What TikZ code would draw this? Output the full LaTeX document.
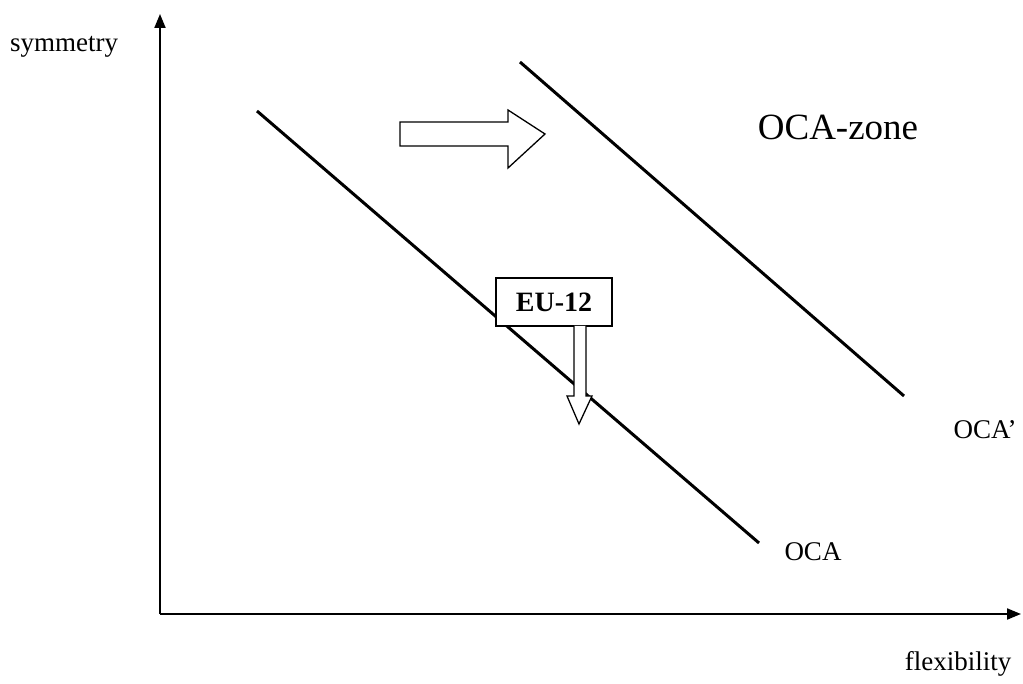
\documentclass[tikz,border=0pt]{standalone}
\usepackage{fontspec}
\setmainfont{Liberation Serif}
\usetikzlibrary{arrows.meta}
\begin{document}
\begin{tikzpicture}[x=1pt,y=-1pt,
  axis/.style={line width=2pt,-{Triangle[length=14pt,width=11pt]}},
  curve/.style={line width=3pt},
  hollow/.style={draw=black,line width=1.3pt,fill=white,line join=miter},
  lbl/.style={font=\fontsize{27}{30}\selectfont,inner sep=0pt},
  boxlbl/.style={draw=black,line width=1.3pt,fill=white,minimum width=116pt,minimum height=48pt,inner sep=0pt,font=\bfseries\fontsize{28}{30}\selectfont}]
\useasboundingbox (0,0) rectangle (1023,684);
% axes
\coordinate (O) at (160,614);
\coordinate (Ytop) at (160,14);
\coordinate (Xend) at (1021,614);
\draw[axis] (O) -- (Ytop);
\draw[axis] (O) -- (Xend);
% lines
\coordinate (a1) at (257,111);
\coordinate (a2) at (759,543);
\coordinate (b1) at (520,62);
\coordinate (b2) at (904,396);
\draw[curve] (a1) -- (a2);
\draw[curve] (b1) -- (b2);
% hollow right arrow
\draw[hollow] (400,122) -- (508,122) -- (508,110) -- (545,134) -- (508,168) -- (508,146) -- (400,146) -- cycle;
% EU-12 box and down arrow
\node[boxlbl] (eu) at (554,302) {EU-12};
\draw[hollow] (574,326) -- (574,396) -- (567,396) -- (579,424) -- (592,396) -- (586,396) -- (586,326);
% labels
\node[lbl] (sym) at (64,47) {symmetry};
\node[lbl] (flex) at (958,664) {flexibility};
\node[font=\fontsize{37}{40}\selectfont,inner sep=0pt] (zone) at (838,127) {OCA-zone};
\node[lbl] (oca) at (813,552) {OCA};
\node[lbl] (ocap) at (985,430) {OCA’};
\end{tikzpicture}
\end{document}
